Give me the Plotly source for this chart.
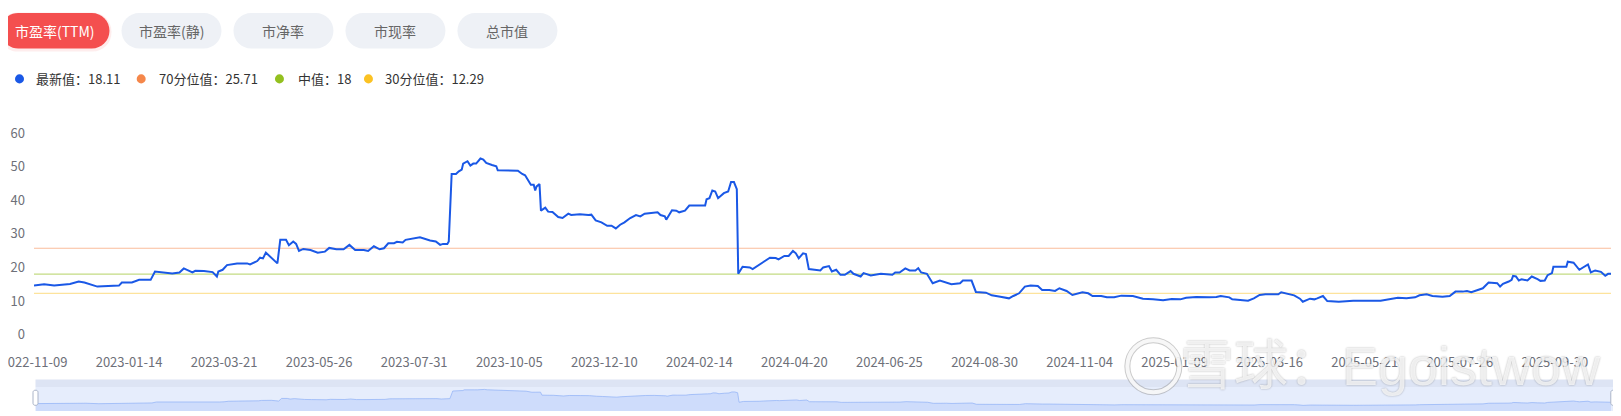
"""PE(TTM) history chart with percentile bands and a mini overview strip."""

import plotly.graph_objects as go

# ---- data ---------------------------------------------------------------
PE_DATES = [
    "2022-11-09", "2022-11-16", "2022-11-23", "2022-11-30", "2022-12-04", "2022-12-10",
    "2022-12-14", "2022-12-23", "2022-12-30", "2023-01-07", "2023-01-09", "2023-01-16",
    "2023-01-21", "2023-01-29", "2023-02-01", "2023-02-07", "2023-02-13", "2023-02-18",
    "2023-02-21", "2023-02-27", "2023-03-01", "2023-03-07", "2023-03-13", "2023-03-16",
    "2023-03-17", "2023-03-20", "2023-03-23", "2023-03-30", "2023-04-06", "2023-04-08",
    "2023-04-13", "2023-04-15", "2023-04-17", "2023-04-19", "2023-04-22", "2023-04-27",
    "2023-04-29", "2023-05-03", "2023-05-05", "2023-05-08", "2023-05-10", "2023-05-12",
    "2023-05-15", "2023-05-20", "2023-05-25", "2023-05-30", "2023-06-02", "2023-06-07",
    "2023-06-12", "2023-06-16", "2023-06-20", "2023-06-26", "2023-06-29", "2023-07-03",
    "2023-07-07", "2023-07-10", "2023-07-13", "2023-07-17", "2023-07-19", "2023-07-23",
    "2023-07-25", "2023-07-30", "2023-08-04", "2023-08-11", "2023-08-15", "2023-08-18",
    "2023-08-20", "2023-08-23", "2023-08-24", "2023-08-26", "2023-08-29", "2023-08-31",
    "2023-09-02", "2023-09-03", "2023-09-06", "2023-09-08", "2023-09-10", "2023-09-12",
    "2023-09-15", "2023-09-17", "2023-09-19", "2023-09-23", "2023-09-26", "2023-09-27",
    "2023-10-11", "2023-10-14", "2023-10-16", "2023-10-20", "2023-10-22", "2023-10-23",
    "2023-10-24", "2023-10-26", "2023-10-27", "2023-10-30", "2023-11-01", "2023-11-04",
    "2023-11-08", "2023-11-11", "2023-11-15", "2023-11-17", "2023-11-23", "2023-11-29",
    "2023-12-01", "2023-12-04", "2023-12-08", "2023-12-12", "2023-12-15", "2023-12-18",
    "2023-12-21", "2023-12-24", "2023-12-28", "2024-01-01", "2024-01-04", "2024-01-07",
    "2024-01-13", "2024-01-16", "2024-01-18", "2024-01-21", "2024-01-22", "2024-01-26",
    "2024-01-29", "2024-01-31", "2024-02-04", "2024-02-07", "2024-02-18", "2024-02-19",
    "2024-02-21", "2024-02-23", "2024-02-25", "2024-02-27", "2024-03-02", "2024-03-05",
    "2024-03-07", "2024-03-09", "2024-03-11", "2024-03-12", "2024-03-15", "2024-03-20",
    "2024-03-22", "2024-03-26", "2024-03-29", "2024-04-03", "2024-04-07", "2024-04-09",
    "2024-04-13", "2024-04-16", "2024-04-19", "2024-04-21", "2024-04-23", "2024-04-26",
    "2024-04-28", "2024-04-30", "2024-05-04", "2024-05-08", "2024-05-10", "2024-05-14",
    "2024-05-16", "2024-05-19", "2024-05-22", "2024-05-25", "2024-05-29", "2024-05-31",
    "2024-06-05", "2024-06-07", "2024-06-12", "2024-06-19", "2024-06-27", "2024-06-29",
    "2024-07-02", "2024-07-06", "2024-07-09", "2024-07-13", "2024-07-15", "2024-07-17",
    "2024-07-21", "2024-07-25", "2024-07-30", "2024-08-03", "2024-08-07", "2024-08-13",
    "2024-08-15", "2024-08-21", "2024-08-24", "2024-08-31", "2024-09-04", "2024-09-10",
    "2024-09-16", "2024-09-19", "2024-09-23", "2024-09-27", "2024-10-01", "2024-10-06",
    "2024-10-09", "2024-10-14", "2024-10-18", "2024-10-21", "2024-10-26", "2024-10-30",
    "2024-11-02", "2024-11-06", "2024-11-10", "2024-11-13", "2024-11-19", "2024-11-23",
    "2024-11-28", "2024-12-03", "2024-12-11", "2024-12-18", "2024-12-25", "2025-01-01",
    "2025-01-07", "2025-01-13", "2025-01-17", "2025-01-24", "2025-02-02", "2025-02-07",
    "2025-02-10", "2025-02-16", "2025-02-18", "2025-02-24", "2025-03-01", "2025-03-05",
    "2025-03-09", "2025-03-13", "2025-03-22", "2025-03-24", "2025-03-28", "2025-04-02",
    "2025-04-06", "2025-04-08", "2025-04-13", "2025-04-16", "2025-04-18", "2025-04-22",
    "2025-04-25", "2025-05-03", "2025-05-13", "2025-05-20", "2025-05-27", "2025-06-01",
    "2025-06-07", "2025-06-13", "2025-06-19", "2025-06-25", "2025-06-28", "2025-07-03",
    "2025-07-07", "2025-07-14", "2025-07-19", "2025-07-23", "2025-07-28", "2025-07-31",
    "2025-08-03", "2025-08-07", "2025-08-11", "2025-08-15", "2025-08-18", "2025-08-21",
    "2025-08-23", "2025-08-25", "2025-08-29", "2025-08-31", "2025-09-01", "2025-09-03",
    "2025-09-05", "2025-09-07", "2025-09-11", "2025-09-14", "2025-09-18", "2025-09-20",
    "2025-09-23", "2025-09-25", "2025-09-28", "2025-09-29", "2025-10-08", "2025-10-09",
    "2025-10-13", "2025-10-15", "2025-10-17", "2025-10-23", "2025-10-25", "2025-10-28",
    "2025-11-01", "2025-11-04", "2025-11-06", "2025-11-08",
]
PE_TTM = [
    14.6, 15.0, 14.6, 14.8, 15.1, 15.8,
    15.5, 14.3, 14.5, 14.6, 15.5, 15.5,
    16.3, 16.3, 18.8, 18.6, 18.2, 18.5,
    19.7, 18.5, 19.0, 18.9, 18.6, 17.3,
    18.8, 19.3, 20.7, 21.2, 21.2, 20.9,
    21.9, 22.9, 22.7, 24.4, 23.2, 21.2,
    28.2, 28.2, 26.6, 27.7, 27.0, 24.9,
    25.5, 25.2, 24.4, 24.7, 25.8, 25.4,
    25.4, 26.7, 25.2, 25.2, 24.9, 26.3,
    25.4, 25.7, 27.2, 27.2, 27.6, 27.4,
    28.2, 28.6, 29.0, 28.0, 27.7, 26.7,
    27.0, 27.0, 27.7, 47.8, 47.8, 48.6,
    49.1, 50.9, 51.6, 50.3, 50.9, 50.9,
    52.4, 52.1, 51.1, 50.5, 50.1, 48.9,
    48.8, 47.8, 47.4, 44.6, 44.6, 42.9,
    44.1, 44.8, 36.9, 37.8, 36.6, 36.5,
    35.0, 34.7, 36.0, 35.6, 35.8, 35.6,
    35.7, 34.0, 33.4, 32.4, 32.4, 31.6,
    32.7, 33.4, 34.7, 35.6, 35.2, 36.0,
    36.2, 36.4, 35.6, 35.2, 34.2, 37.0,
    36.9, 36.4, 36.9, 38.4, 38.4, 40.3,
    40.6, 42.9, 42.6, 40.6, 42.1, 42.6,
    45.4, 45.4, 43.3, 18.1, 20.2, 20.0,
    19.5, 20.7, 21.4, 22.9, 22.8, 22.4,
    23.4, 23.4, 24.9, 24.2, 22.7, 24.2,
    24.0, 19.5, 19.3, 19.1, 20.0, 20.4,
    18.8, 19.3, 17.8, 17.8, 18.9, 18.1,
    17.3, 18.3, 17.6, 18.1, 17.8, 18.5,
    18.5, 19.7, 19.1, 19.1, 19.8, 18.5,
    18.1, 15.3, 16.1, 15.5, 15.0, 15.3,
    16.1, 16.1, 12.7, 12.5, 11.7, 11.3,
    10.8, 11.5, 12.3, 14.3, 14.6, 14.5,
    13.3, 13.3, 13.0, 13.8, 13.0, 11.8,
    12.1, 12.6, 12.3, 11.5, 11.5, 11.1,
    11.1, 11.6, 11.5, 10.7, 10.5, 10.2,
    10.6, 10.5, 11.0, 11.2, 11.1, 11.2,
    11.5, 11.1, 10.5, 10.4, 10.1, 10.8,
    11.8, 12.0, 12.0, 12.6, 12.1, 11.7,
    10.7, 9.8, 10.7, 10.5, 10.8, 11.5,
    10.0, 9.8, 10.1, 10.2, 10.1, 10.1,
    10.5, 11.0, 10.8, 11.1, 11.7, 12.0,
    11.5, 11.3, 11.5, 12.8, 12.8, 13.0,
    12.6, 13.3, 13.8, 15.5, 15.3, 15.3,
    14.3, 15.1, 15.8, 16.3, 17.5, 17.3,
    16.1, 16.5, 16.1, 17.3, 16.5, 16.0,
    16.1, 17.7, 18.3, 20.2, 20.2, 21.7,
    21.4, 20.2, 19.3, 20.9, 18.5, 19.1,
    18.7, 17.5, 18.1, 18.11,
]

LATEST = 18.11
P70 = 25.71
MEDIAN = 18
P30 = 12.29

TABS = ["市盈率(TTM)", "市盈率(静)", "市净率", "市现率", "总市值"]
ACTIVE_TAB = 0

X_TICKS = [
    "2022-11-09", "2023-01-14", "2023-03-21", "2023-05-26", "2023-07-31", "2023-10-05",
    "2023-12-10", "2024-02-14", "2024-04-20", "2024-06-25", "2024-08-30", "2024-11-04",
    "2025-01-09", "2025-03-16", "2025-05-21", "2025-07-26", "2025-09-30",
]
Y_TICKS = [0, 10, 20, 30, 40, 50, 60]
WATERMARK = "雪球：Egoistwow"

# ---- style --------------------------------------------------------------
BLUE = "#1a58e6"
ORANGE = "#f5874a"
GREEN = "#93c01f"
YELLOW = "#fbc223"
AXIS_TXT = "#6e7079"
FONT = "Noto Sans CJK SC, Noto Sans, sans-serif"

# the page body has an 8px margin, so the figure is laid out in page pixels
# and shifted back by that offset
OFF = 8
PAGE_W, PAGE_H = 1621, 416
W, H = PAGE_W - OFF, PAGE_H - OFF
PLOT_X0, PLOT_X1 = 33.5, 1610.7      # main plot, page px
PLOT_Y0, PLOT_Y1 = 133.3, 334.5
SLIDER_Y1 = 410.7
L, R = PLOT_X0 - OFF, W - (PLOT_X1 - OFF)
T, B = PLOT_Y0 - OFF, H - (SLIDER_Y1 - OFF)
PW, PH = W - L - R, H - T - B


def px(x):
    return (x - OFF - L) / PW


def py(y):
    return (H - B - (y - OFF)) / PH


def pill(x0, y0, x1, y1, r):
    """Rounded rectangle path in paper coords, given page-pixel corners."""
    k = 0.5523 * r
    pts = [
        ("M", [(x0 + r, y0)]),
        ("L", [(x1 - r, y0)]),
        ("C", [(x1 - r + k, y0), (x1, y0 + r - k), (x1, y0 + r)]),
        ("L", [(x1, y1 - r)]),
        ("C", [(x1, y1 - r + k), (x1 - r + k, y1), (x1 - r, y1)]),
        ("L", [(x0 + r, y1)]),
        ("C", [(x0 + r - k, y1), (x0, y1 - r + k), (x0, y1 - r)]),
        ("L", [(x0, y0 + r)]),
        ("C", [(x0, y0 + r - k), (x0 + r - k, y0), (x0 + r, y0)]),
    ]
    out = []
    for cmd, coords in pts:
        out.append(cmd + " ".join(f"{px(a):.5f},{py(b):.5f}" for a, b in coords))
    return " ".join(out) + " Z"


fig = go.Figure()

# percentile reference lines
for val, col in [(P70, "rgba(245,135,74,0.55)"), (MEDIAN, "rgba(147,192,31,0.55)"),
                 (P30, "rgba(251,194,35,0.45)")]:
    fig.add_trace(go.Scatter(
        x=[PE_DATES[0], PE_DATES[-1]], y=[val, val], mode="lines",
        line=dict(color=col, width=1.2), hoverinfo="skip", showlegend=False,
    ))

fig.add_trace(go.Scatter(
    x=PE_DATES, y=PE_TTM, mode="lines", line=dict(color=BLUE, width=2),
    name="市盈率(TTM)", showlegend=False,
))

# overview strip (data shadow)
fig.add_trace(go.Scatter(
    x=[PE_DATES[0], PE_DATES[-1]], y=[-5, -5], mode="lines", line=dict(width=0),
    xaxis="x2", yaxis="y2", hoverinfo="skip", showlegend=False,
))
fig.add_trace(go.Scatter(
    x=PE_DATES, y=PE_TTM, mode="lines", fill="tonexty",
    fillcolor="rgba(143,176,247,0.28)", line=dict(color="rgba(143,176,247,0.7)", width=1),
    xaxis="x2", yaxis="y2", hoverinfo="skip", showlegend=False,
))

shapes = []
annotations = []

# tab buttons
tab_x = [0, 121, 233, 345, 457]
tab_w = [109, 100, 100, 100, 100]
for i, (label, x0, w) in enumerate(zip(TABS, tab_x, tab_w)):
    active = i == ACTIVE_TAB
    if active:
        shapes.append(dict(type="path", xref="paper", yref="paper", layer="below",
                           path=pill(x0 - 2, 13, x0 + w + 2, 52, 19),
                           fillcolor="rgba(243,77,77,0.10)", line=dict(width=0)))
    shapes.append(dict(type="path", xref="paper", yref="paper", layer="below",
                       path=pill(x0, 13.5, x0 + w, 49, 17.7),
                       fillcolor="#f44f4f" if active else "#eef1f6", line=dict(width=0)))
    annotations.append(dict(x=px(x0 + w / 2), y=py(31.5), xref="paper", yref="paper",
                            text=label, showarrow=False, xanchor="center", yanchor="middle",
                            font=dict(size=14, color="#ffffff" if active else "#666666",
                                      family=FONT)))

# legend row
legend_items = [
    (f"最新值：{LATEST}", BLUE, 19, 34),
    (f"70分位值：{P70}", ORANGE, 140.7, 157),
    (f"中值：{MEDIAN}", GREEN, 279, 296),
    (f"30分位值：{P30}", YELLOW, 368, 383),
]
for text, col, cx, tx in legend_items:
    shapes.append(dict(type="circle", xref="paper", yref="paper",
                       x0=px(cx - 4.5), x1=px(cx + 4.5), y0=py(79.3 + 4.5), y1=py(79.3 - 4.5),
                       fillcolor=col, line=dict(width=0)))
    annotations.append(dict(x=px(tx), y=py(79.3), xref="paper", yref="paper", text=text,
                            showarrow=False, xanchor="left", yanchor="middle",
                            font=dict(size=13, color="#333333", family=FONT)))

# slider frame
shapes.append(dict(type="rect", xref="paper", yref="paper", layer="below",
                   x0=px(35), x1=px(1613), y0=py(410.7), y1=py(386.7),
                   fillcolor="#e6edfc", line=dict(width=0)))
shapes.append(dict(type="rect", xref="paper", yref="paper", layer="below",
                   x0=px(35), x1=px(1613), y0=py(386.7), y1=py(379.3),
                   fillcolor="#dde4f4", line=dict(width=0)))
for hx in (35, 1613):
    shapes.append(dict(type="path", xref="paper", yref="paper",
                       path=pill(hx - 2.5, 390, hx + 2.5, 405, 2),
                       fillcolor="#ffffff", line=dict(color="#aab4c8", width=1)))

# watermark
annotations.append(dict(x=px(1178), y=py(366), xref="paper", yref="paper", text=WATERMARK,
                        showarrow=False, xanchor="left", yanchor="middle",
                        font=dict(size=54, color="rgba(255,255,255,0.78)",
                                  family="Liberation Sans, Noto Sans CJK SC",
                                  shadow="0px 0px 2px rgba(0,0,0,0.4)")))
for col, lw in (("rgba(150,150,150,0.5)", 6), ("rgba(255,255,255,0.85)", 4)):
    shapes.append(dict(type="circle", xref="paper", yref="paper",
                       x0=px(1127), x1=px(1179), y0=py(392), y1=py(340),
                       fillcolor="rgba(0,0,0,0)", line=dict(color=col, width=lw)))

fig.update_layout(
    width=W, height=H,
    margin=dict(l=L, r=R, t=T, b=B, autoexpand=False),
    paper_bgcolor="#ffffff", plot_bgcolor="#ffffff",
    font=dict(family=FONT, color=AXIS_TXT, size=13),
    shapes=shapes, annotations=annotations,
    xaxis=dict(
        type="date", range=[PE_DATES[0], PE_DATES[-1]], domain=[0, 1], anchor="y",
        tickvals=X_TICKS, tickformat="%Y-%m-%d", ticks="", showgrid=False,
        showline=False, zeroline=False, ticklabelstandoff=18, automargin=False,
        ticklabeloverflow="allow", tickfont=dict(size=13, color=AXIS_TXT),
    ),
    yaxis=dict(
        range=[0, 60], domain=[py(PLOT_Y1), 1], tickvals=Y_TICKS, ticks="",
        showgrid=False, zeroline=False, showline=False, ticklabelstandoff=8,
        automargin=False, tickfont=dict(size=13, color=AXIS_TXT),
    ),
    xaxis2=dict(
        type="date", range=[PE_DATES[0], PE_DATES[-1]], domain=[px(35), 1], anchor="y2",
        visible=False, automargin=False,
    ),
    yaxis2=dict(range=[-5, 58.6], domain=[py(SLIDER_Y1), py(386.7)], anchor="x2",
                visible=False, automargin=False),
)

fig.write_html("out.html")
